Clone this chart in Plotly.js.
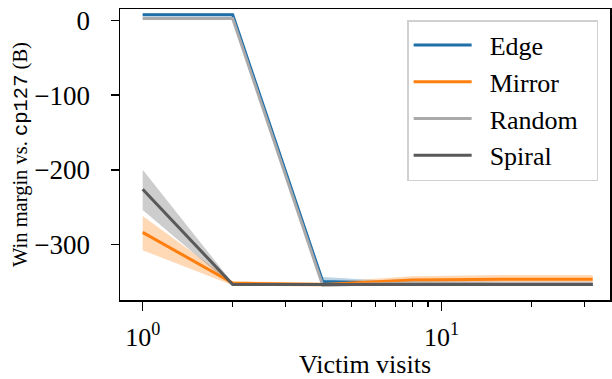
<!DOCTYPE html>
<html>
<head>
<meta charset="utf-8">
<script src="https://cdn.plot.ly/plotly-3.0.1.min.js"></script>
<style>html,body{margin:0;padding:0;background:#fff;}#chart{width:612px;height:379px;}</style>
</head>
<body>
<div id="chart"></div>
<script>
const visits = [1, 2, 4, 8, 16, 32];
const seriesNames = ['Edge', 'Mirror', 'Random', 'Spiral'];
const edgeMean = [8, 8, -350, -353, -354, -354];
const edgeLow = [6, 6, -354, -355, -356, -356];
const edgeHigh = [10, 10, -344, -351, -352, -352];
const mirrorMean = [-284, -352, -354, -348, -347, -347];
const mirrorLow = [-308, -355, -357, -352, -351, -351];
const mirrorHigh = [-262, -350, -351, -343, -341, -341];
const randomMean = [3, 3, -355, -352, -353, -353];
const randomLow = [1, 1, -357, -355, -355, -355];
const randomHigh = [5, 5, -352, -346, -350, -350];
const spiralMean = [-226, -354, -354, -354, -354, -354];
const spiralLow = [-254, -356, -356, -356, -356, -356];
const spiralHigh = [-200, -352, -352, -352, -352, -352];
const xTickVals = [1, 10];
const xTickText = ['10<sup>0</sup>', '10<sup>1</sup>'];
const xMinorVals = [2, 3, 4, 5, 6, 7, 8, 9, 20, 30];
const yTickVals = [0, -100, -200, -300];
const yTickText = ['0', '\u2212100', '\u2212200', '\u2212300'];

const SERIF = 'Times New Roman, Liberation Serif, DejaVu Serif, serif';
const MONO = 'Liberation Mono';
const colors = ['#1f6fa8', '#ff7f0e', '#aaaaaa', '#595959'];
const bandColors = ['rgba(31,111,168,0.3)', 'rgba(255,127,14,0.3)', 'rgba(170,170,170,0.35)', 'rgba(89,89,89,0.3)'];
const means = [edgeMean, mirrorMean, randomMean, spiralMean];
const lows = [edgeLow, mirrorLow, randomLow, spiralLow];
const highs = [edgeHigh, mirrorHigh, randomHigh, spiralHigh];

const traces = [];
for (let i = 0; i < 4; i++) {
  traces.push({x: visits, y: lows[i], mode: 'lines', line: {width: 0, color: bandColors[i]}, showlegend: false, hoverinfo: 'skip'});
  traces.push({x: visits, y: highs[i], mode: 'lines', line: {width: 0, color: bandColors[i]}, fill: 'tonexty', fillcolor: bandColors[i], showlegend: false, hoverinfo: 'skip'});
}
for (let i = 0; i < 4; i++) {
  traces.push({x: visits, y: means[i], mode: 'lines', name: '\u2002' + seriesNames[i] + '\u2002', line: {width: 3, color: colors[i]}});
}

const layout = {
  width: 612, height: 379,
  margin: {l: 120, r: 2, t: 9, b: 79},
  paper_bgcolor: '#fff', plot_bgcolor: '#fff',
  font: {family: SERIF, color: '#000', size: 26},
  showlegend: true,
  legend: {
    x: 0.586, y: 0.962, xanchor: 'left', yanchor: 'top',
    traceorder: 'normal',
    bordercolor: '#d0d0d0', borderwidth: 1.5, bgcolor: 'rgba(255,255,255,0.9)',
    font: {family: SERIF, size: 26}, itemwidth: 58, tracegroupgap: 0
  },
  xaxis: {
    type: 'log', range: [-0.0759, 1.563],
    tickmode: 'array', tickvals: xTickVals, ticktext: xTickText,
    ticks: 'outside', ticklen: 9, tickwidth: 1.5, tickcolor: '#000',
    ticklabelstandoff: 4,
    showline: true, linecolor: '#000', linewidth: 1.5, mirror: true,
    showgrid: false, zeroline: false,
    minor: {tickmode: 'array', tickvals: xMinorVals, ticks: 'outside', ticklen: 5, tickwidth: 1.2, tickcolor: '#000', showgrid: false},
    tickfont: {family: SERIF, size: 26},
    title: {text: 'Victim visits', font: {family: SERIF, size: 26}, standoff: 4}
  },
  yaxis: {
    range: [-374.7, 15.7],
    tickmode: 'array', tickvals: yTickVals, ticktext: yTickText,
    ticks: 'outside', ticklen: 8, tickwidth: 1.5, tickcolor: '#000',
    ticklabelstandoff: 15,
    showline: true, linecolor: '#000', linewidth: 1.5, mirror: true,
    showgrid: false, zeroline: false,
    tickfont: {family: SERIF, size: 27},
    title: {text: 'Win margin vs. <span style="font-family:' + MONO + '">cp127</span> (B)', font: {family: SERIF, size: 20.5}, standoff: 1}
  }
};

Plotly.newPlot('chart', traces, layout, {staticPlot: true, displayModeBar: false});
</script>
</body>
</html>
